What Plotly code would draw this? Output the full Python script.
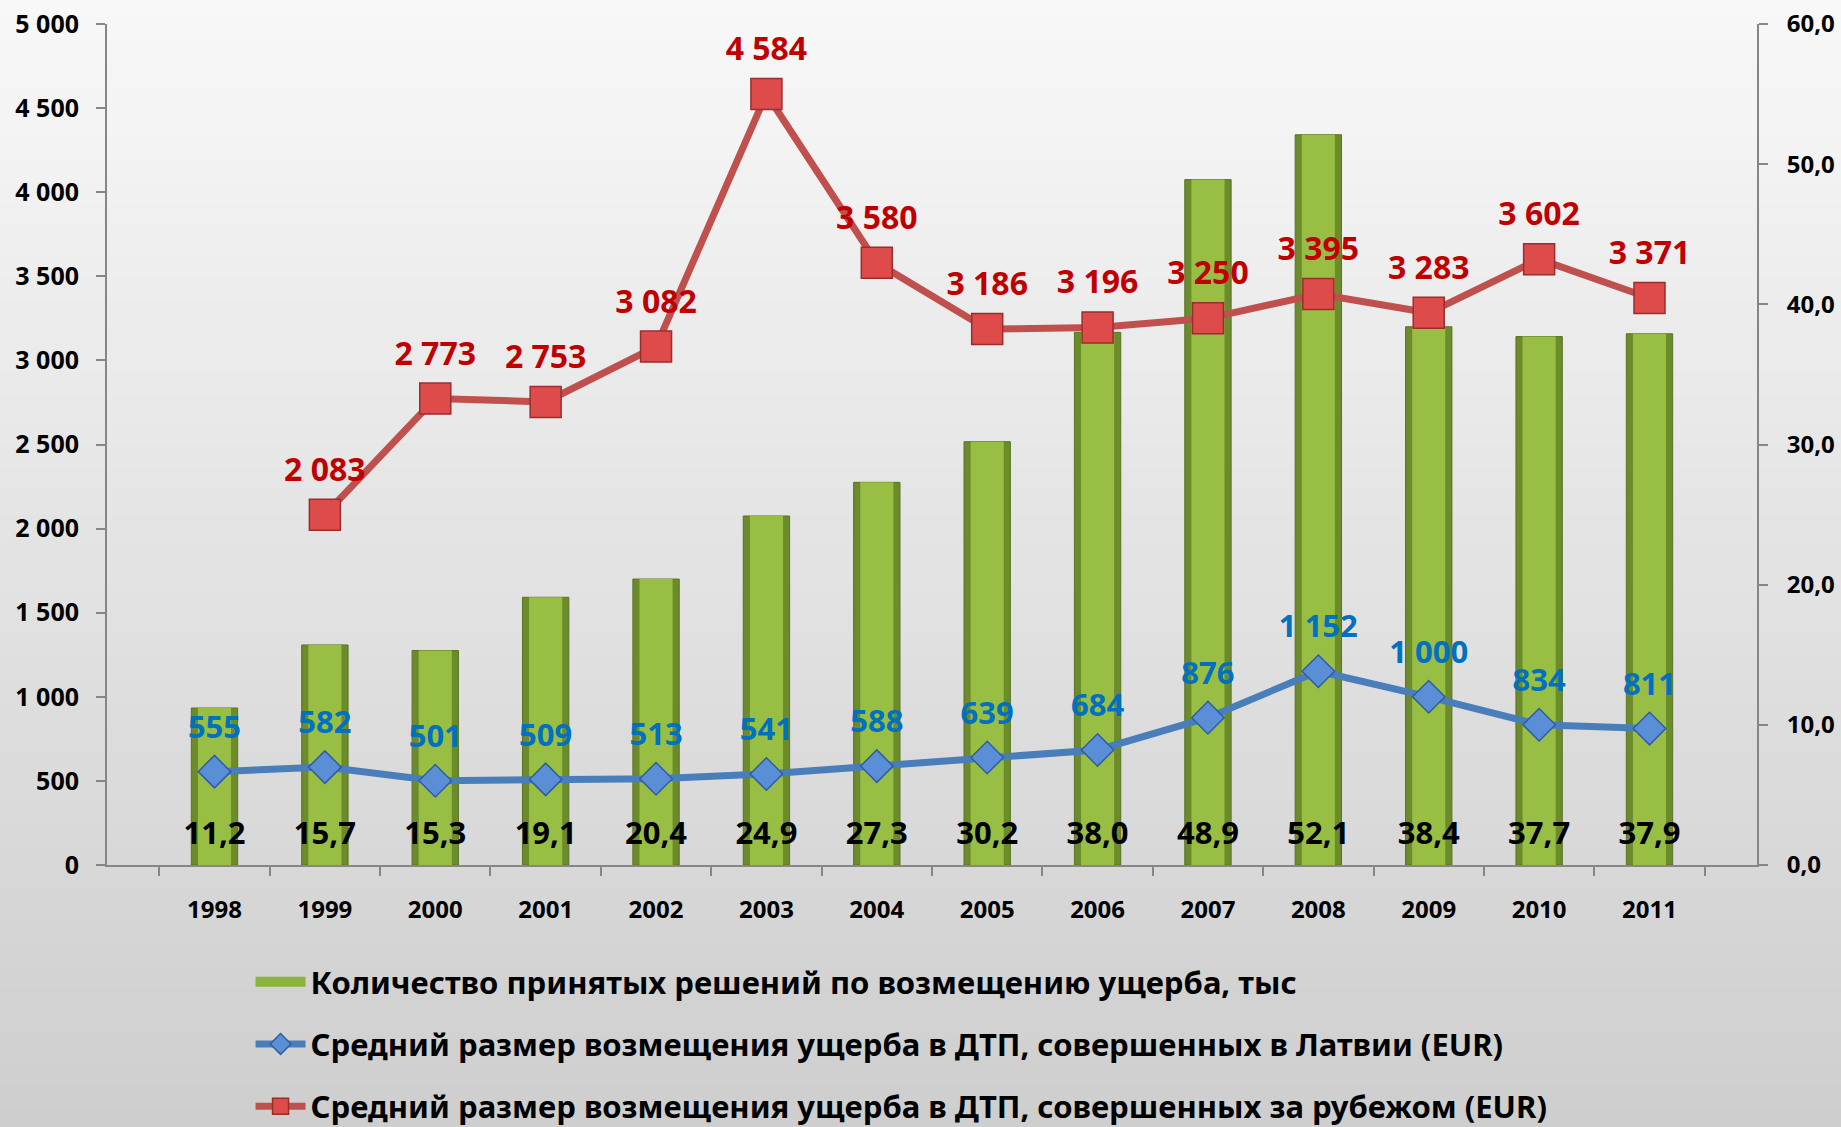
import plotly.graph_objects as go

years = ["1998", "1999", "2000", "2001", "2002", "2003", "2004",
         "2005", "2006", "2007", "2008", "2009", "2010", "2011"]
decisions_k = [11.2, 15.7, 15.3, 19.1, 20.4, 24.9, 27.3, 30.2, 38.0, 48.9, 52.1, 38.4, 37.7, 37.9]
avg_latvia = [555, 582, 501, 509, 513, 541, 588, 639, 684, 876, 1152, 1000, 834, 811]
avg_abroad = [None, 2083, 2773, 2753, 3082, 4584, 3580, 3186, 3196, 3250, 3395, 3283, 3602, 3371]

name_bars = "Количество принятых решений по возмещению ущерба, тыс"
name_lv = "Средний размер возмещения ущерба в ДТП, совершенных в Латвии (EUR)"
name_ab = "Средний размер возмещения ущерба в ДТП, совершенных за рубежом (EUR)"

FONT = "Noto Sans"
bar_label_level = 2.05  # level (right axis units) where bar value labels sit

fig = go.Figure()

# Bars on the right-hand axis (y), lines on the left-hand axis (y2, drawn on top)
fig.add_trace(go.Bar(
    x=years, y=decisions_k, yaxis="y", width=0.42,
    marker=dict(color="#6C8B2A", line=dict(color="#5A7423", width=1)),
    showlegend=False, hoverinfo="skip",
))
fig.add_trace(go.Bar(
    x=years, y=decisions_k, yaxis="y", width=0.30,
    marker=dict(color="#98BE44", line=dict(width=0)),
    showlegend=False,
))
# legend entry for bars
fig.add_trace(go.Scatter(
    x=[None], y=[None], yaxis="y", mode="lines", name=name_bars,
    line=dict(color="#8DB43A", width=14), legendgroup="a",
))
# bar value labels
fig.add_trace(go.Scatter(
    x=years, y=[bar_label_level] * len(years), yaxis="y", mode="text",
    text=decisions_k, texttemplate="%{text:.1f}",
    textfont=dict(family=FONT, size=31, color="#000000", weight="bold"),
    showlegend=False, hoverinfo="skip",
))

# Latvia line
fig.add_trace(go.Scatter(
    x=years, y=avg_latvia, yaxis="y2", name=name_lv, mode="lines+markers",
    line=dict(color="#4A7EBB", width=7),
    marker=dict(symbol="diamond", size=25, color="#5A8FD8",
                line=dict(color="#2F5E9E", width=1.5)),
    legendgroup="b",
))
fig.add_trace(go.Scatter(
    x=years, y=avg_latvia, yaxis="y2", mode="markers+text",
    marker=dict(size=40, color="rgba(0,0,0,0)"),
    texttemplate="%{y:,.0f}", textposition="top center",
    textfont=dict(family=FONT, size=31, color="#0070C0", weight="bold"),
    showlegend=False, hoverinfo="skip",
))
# Abroad line
fig.add_trace(go.Scatter(
    x=years, y=avg_abroad, yaxis="y2", name=name_ab, mode="lines+markers",
    line=dict(color="#C0504D", width=7),
    marker=dict(symbol="square", size=31, color="#DE4B4B",
                line=dict(color="#9A2E2C", width=1.5)),
    legendgroup="c", connectgaps=False,
))
fig.add_trace(go.Scatter(
    x=years, y=avg_abroad, yaxis="y2", mode="markers+text",
    marker=dict(size=40, color="rgba(0,0,0,0)"),
    texttemplate="%{y:,.0f}", textposition="top center",
    textfont=dict(family=FONT, size=32, color="#C00000", weight="bold"),
    showlegend=False, hoverinfo="skip",
))

# background vertical gradient
shapes = []
n = 48
top = (248, 248, 248)
bot = (206, 206, 206)
y_lo, y_hi = -0.32, 1.035
for i in range(n):
    t = i / (n - 1)
    c = tuple(int(round(top[k] + (bot[k] - top[k]) * t)) for k in range(3))
    y1 = y_hi - (y_hi - y_lo) * i / n
    y0 = y_hi - (y_hi - y_lo) * (i + 1) / n
    if i == 0:
        y1 = 1.2
    if i == n - 1:
        y0 = -0.5
    shapes.append(dict(type="rect", xref="paper", yref="paper",
                       x0=-0.2, x1=1.2, y0=y0 - 0.003, y1=y1 + 0.003,
                       fillcolor="rgb(%d,%d,%d)" % c, line=dict(width=0),
                       layer="below"))

axis_line = "#868686"

fig.update_layout(
    width=1841, height=1127,
    margin=dict(l=107, r=84, t=24, b=262, autoexpand=False),
    paper_bgcolor="#E4E4E4", plot_bgcolor="rgba(0,0,0,0)",
    barmode="overlay",
    separators=", ",
    shapes=shapes,
    font=dict(family=FONT, color="#000000"),
    xaxis=dict(
        type="category", showgrid=False, showline=True, linecolor=axis_line,
        linewidth=2, ticks="outside", tickson="boundaries", ticklen=9,
        tickcolor=axis_line, tickwidth=2, automargin=False,
        tickfont=dict(family=FONT, size=24, color="#000000", weight="bold"),
        ticklabelstandoff=22,
    ),
    yaxis=dict(
        range=[0, 60], dtick=10, tickformat=".1f", side="right",
        showgrid=False, zeroline=False, showline=True, linecolor=axis_line,
        linewidth=2, ticks="outside", ticklen=9, tickcolor=axis_line,
        tickwidth=2, ticklabelstandoff=14, automargin=False,
        tickfont=dict(family=FONT, size=24, color="#000000", weight="bold"),
    ),
    yaxis2=dict(
        range=[0, 5000], dtick=500, tickformat=",.0f", overlaying="y", side="left",
        showgrid=False, zeroline=False, showline=True, linecolor=axis_line,
        linewidth=2, ticks="outside", ticklen=9, tickcolor=axis_line,
        tickwidth=2, ticklabelstandoff=12, automargin=False,
        tickfont=dict(family=FONT, size=25, color="#000000", weight="bold"),
    ),
    legend=dict(
        orientation="v", x=0.087, xanchor="left", y=-0.107, yanchor="top",
        font=dict(family=FONT, size=31, color="#000000", weight="bold"),
        bgcolor="rgba(0,0,0,0)", tracegroupgap=19, traceorder="grouped",
        itemwidth=50,
    ),
)

fig.write_html(
    "out.html",
    config={"displayModeBar": False},
    post_script="document.body.style.margin='0px';"
                "document.body.style.overflow='hidden';"
                "document.body.style.background='#D0D0D0';",
)
